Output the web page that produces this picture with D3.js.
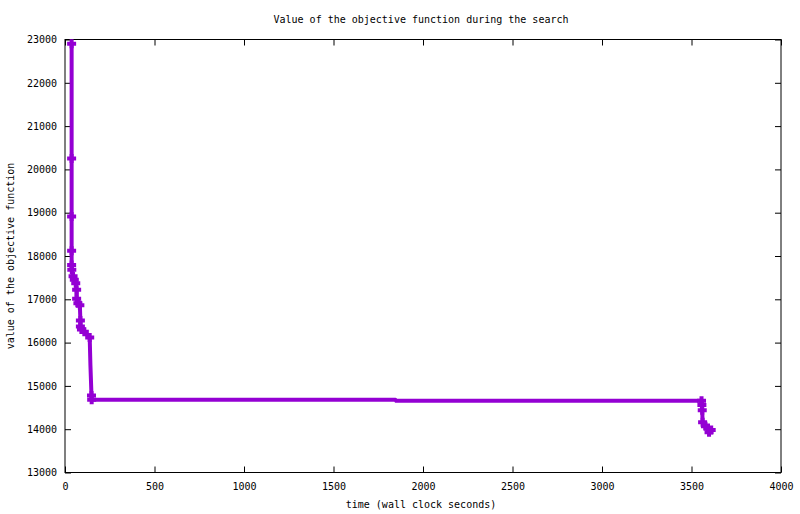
<!DOCTYPE html>
<html>
<head>
<meta charset="utf-8">
<script src="https://cdn.jsdelivr.net/npm/d3@7"></script>
<style>
  body { margin: 0; background: #fff; }
  text { font-family: "DejaVu Sans Mono", monospace; font-size: 10px; fill: #000; }
</style>
</head>
<body>
<div class="chart"></div>
<script>
// values (time in seconds, objective value)
const times = [37, 37, 37, 37, 37, 38, 45, 52, 60, 65, 65, 72, 83, 86, 86, 92, 108, 138, 142, 148, 149,
  1846, 1850, 3534, 3556, 3558, 3560, 3562, 3578, 3592, 3598, 3610]
const values = [22900, 20250, 18910, 18120, 17790, 17680, 17530, 17450, 17370, 17220, 17010, 16910, 16860, 16510, 16370, 16300, 16250, 16120, 15480, 14780, 14680,
  14680, 14655, 14655, 14655, 14560, 14440, 14160, 14070, 14030, 13930, 13980]
// points that were drawn without a marker
const unmarked = [18, 21, 22, 23]

const xTicks = [0, 500, 1000, 1500, 2000, 2500, 3000, 3500, 4000]
const yTicks = [13000, 14000, 15000, 16000, 17000, 18000, 19000, 20000, 21000, 22000, 23000]

const titleText = "Value of the objective function during the search"
const xLabel = "time (wall clock seconds)"
const yLabel = "value of the objective function"

const w = 800
const h = 514
const margin = {left: 65, right: 19, top: 39.5, bottom: 41.5}
const color = "#9400d3"

const svg = d3.select(".chart")
  .append("svg")
    .attr("width", w)
    .attr("height", h)

const x = d3.scaleLinear().domain([0, 4000]).range([margin.left, w - margin.right])
const y = d3.scaleLinear().domain([13000, 23000]).range([h - margin.bottom, margin.top])

const data = times.map((t, i) => ({t: t, v: values[i], i: i}))

// axes, ticks drawn inward and mirrored
const tickLen = 6
const axisStyle = g => {
  g.select(".domain").remove()
  g.selectAll("line").attr("stroke", "#000").attr("stroke-width", 1)
}

svg.append("g")
  .attr("transform", `translate(0,${h - margin.bottom})`)
  .call(d3.axisBottom(x).tickValues(xTicks).tickSize(-tickLen).tickPadding(10).tickFormat(d3.format("d")))
  .call(axisStyle)
svg.append("g")
  .attr("transform", `translate(0,${margin.top})`)
  .call(d3.axisTop(x).tickValues(xTicks).tickSize(-tickLen).tickFormat(""))
  .call(axisStyle)
svg.append("g")
  .attr("transform", `translate(${margin.left},0)`)
  .call(d3.axisLeft(y).tickValues(yTicks).tickSize(-tickLen).tickPadding(8).tickFormat(d3.format("d")))
  .call(axisStyle)
svg.append("g")
  .attr("transform", `translate(${w - margin.right},0)`)
  .call(d3.axisRight(y).tickValues(yTicks).tickSize(-tickLen).tickFormat(""))
  .call(axisStyle)

svg.selectAll(".tick text").style("font-family", "DejaVu Sans Mono").style("font-size", "10px")

// border
svg.append("rect")
  .attr("x", margin.left)
  .attr("y", margin.top)
  .attr("width", w - margin.left - margin.right)
  .attr("height", h - margin.top - margin.bottom)
  .attr("fill", "none")
  .attr("stroke", "#000")
  .attr("stroke-width", 1)

// the series
svg.append("path")
  .datum(data)
  .attr("fill", "none")
  .attr("stroke", color)
  .attr("stroke-width", 4)
  .attr("stroke-linejoin", "round")
  .attr("d", d3.line().x(d => x(d.t)).y(d => y(d.v)))

// '+' markers
const arm = 4.5
svg.append("g")
  .selectAll("path")
  .data(data.filter(d => !unmarked.includes(d.i)))
  .join("path")
    .attr("fill", "none")
    .attr("stroke", color)
    .attr("stroke-width", 4)
    .attr("d", d => {
      const px = x(d.t), py = y(d.v)
      return `M${px - arm},${py}H${px + arm}M${px},${py - arm}V${py + arm}`
    })

// labels
svg.append("text")
  .attr("x", 421)
  .attr("y", 23)
  .attr("text-anchor", "middle")
  .text(titleText)

svg.append("text")
  .attr("x", 421)
  .attr("y", 508)
  .attr("text-anchor", "middle")
  .text(xLabel)

svg.append("text")
  .attr("transform", "translate(14,256) rotate(-90)")
  .attr("text-anchor", "middle")
  .text(yLabel)
</script>
</body>
</html>
